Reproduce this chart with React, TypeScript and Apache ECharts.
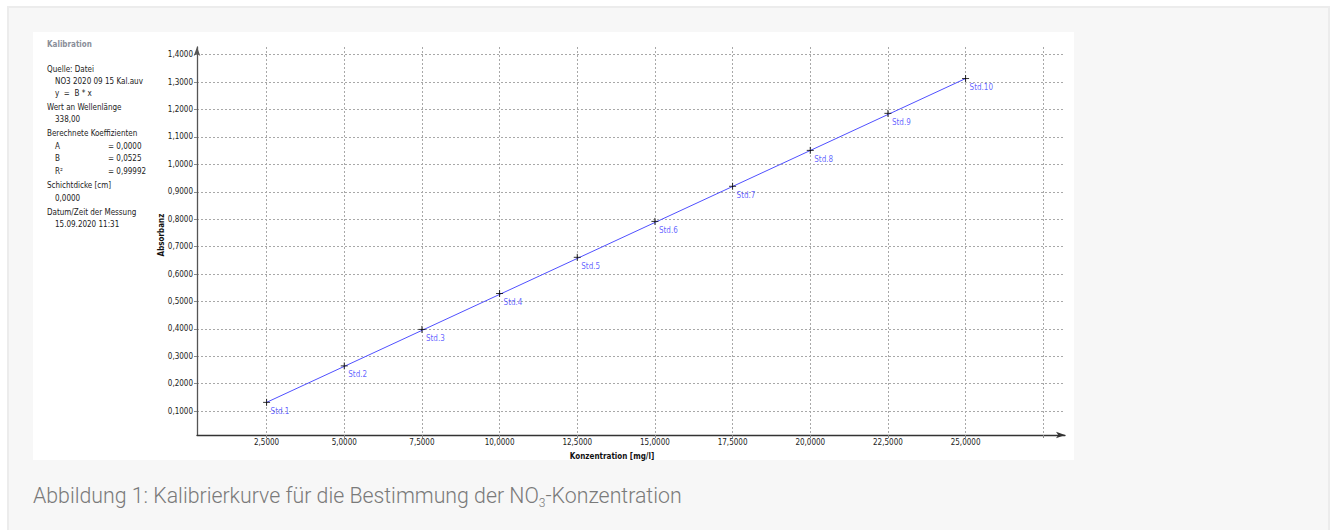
import React, { useEffect, useRef } from "react";
import * as echarts from "echarts";

const stdNames = ["Std.1", "Std.2", "Std.3", "Std.4", "Std.5", "Std.6", "Std.7", "Std.8", "Std.9", "Std.10"];
const concentrations = [2.5, 5.0, 7.5, 10.0, 12.5, 15.0, 17.5, 20.0, 22.5, 25.0];
const absorbances = [0.132, 0.265, 0.398, 0.529, 0.661, 0.792, 0.92, 1.051, 1.186, 1.313];
const fitLine = [
  [2.5, 0.132],
  [25.0, 1.313],
];
const xTickValues = [2.5, 5.0, 7.5, 10.0, 12.5, 15.0, 17.5, 20.0, 22.5, 25.0, 27.5];
const xLabelValues = [2.5, 5.0, 7.5, 10.0, 12.5, 15.0, 17.5, 20.0, 22.5, 25.0];
const yTickValues = [0.1, 0.2, 0.3, 0.4, 0.5, 0.6, 0.7, 0.8, 0.9, 1.0, 1.1, 1.2, 1.3, 1.4];

const infoLines: [string, number, number][] = [
  ["Quelle: Datei", 47, 69],
  ["NO3 2020 09 15 Kal.auv", 55, 81],
  ["y  =  B * x", 55, 93],
  ["Wert an Wellenlänge", 47, 107],
  ["338,00", 55, 119],
  ["Berechnete Koeffizienten", 47, 133],
  ["A", 55, 146],
  ["= 0,0000", 108, 146],
  ["B", 55, 158],
  ["= 0,0525", 108, 158],
  ["R²", 55, 171],
  ["= 0,99992", 108, 171],
  ["Schichtdicke [cm]", 47, 185],
  ["0,0000", 55, 198],
  ["Datum/Zeit der Messung", 47, 212],
  ["15.09.2020 11:31", 55, 224],
];

const FONT = "'DejaVu Sans Condensed', 'DejaVu Sans', sans-serif";
const fmt = (v: number) => v.toFixed(4).replace(".", ",");

export default function App() {
  const ref = useRef<HTMLDivElement>(null);

  useEffect(() => {
    if (!ref.current) return;
    const chart = echarts.init(ref.current, undefined, { renderer: "svg" });
    const gridLine = { show: true, lineStyle: { color: "#a8a8a8", type: [2, 2] as any, width: 1 } };
    chart.setOption({
      animation: false,
      backgroundColor: "transparent",
      grid: { left: 197, top: 47, right: 270, bottom: 95, outerBoundsMode: "none", containLabel: false },
      xAxis: {
        type: "value",
        min: 0.26,
        max: 28.2,
        name: "Konzentration [mg/l]",
        nameLocation: "middle",
        nameGap: 17,
        nameMoveOverlap: false,
        nameTextStyle: { fontFamily: FONT, fontSize: 8, fontWeight: "bold", color: "#111", padding: [0, 38, 0, 0], verticalAlign: "top" },
        axisLine: { show: true, onZero: false, symbol: ["none", "arrow"], symbolSize: [5, 9], lineStyle: { color: "#333", width: 1.3 } },
        axisTick: { show: true, length: 3, customValues: xTickValues, lineStyle: { color: "#888" } },
        axisLabel: { customValues: xLabelValues, formatter: fmt, fontFamily: FONT, fontSize: 8, color: "#222", margin: 3 },
        splitLine: gridLine,
      },
      yAxis: {
        type: "value",
        min: 0.013,
        max: 1.428,
        name: "Absorbanz",
        nameLocation: "middle",
        nameGap: 32,
        nameMoveOverlap: false,
        nameTextStyle: { fontFamily: FONT, fontSize: 8, fontWeight: "bold", color: "#111", padding: [0, 0, 0, 12] },
        axisLine: { show: true, onZero: false, symbol: ["none", "arrow"], symbolSize: [5, 9], lineStyle: { color: "#555", width: 1.3 } },
        axisTick: { show: true, length: 3, customValues: yTickValues, lineStyle: { color: "#888" } },
        axisLabel: { customValues: yTickValues, formatter: fmt, fontFamily: FONT, fontSize: 8, color: "#222", margin: 4 },
        splitLine: gridLine,
      },
      series: [
        {
          type: "line",
          data: fitLine,
          symbol: "none",
          lineStyle: { color: "#5050ff", width: 1 },
          silent: true,
          z: 2,
        },
        {
          type: "scatter",
          data: concentrations.map((c, i) => ({ value: [c, absorbances[i]], name: stdNames[i] })),
          symbol: "path://M0,5H10M5,0V10",
          symbolSize: 7,
          itemStyle: { color: "none", borderColor: "#000", borderWidth: 1 },
          label: {
            show: true,
            formatter: (p: any) => p.name,
            position: [10, 11],
            fontFamily: FONT,
            fontSize: 8,
            color: "#3c3cff",
          },
          z: 3,
        },
      ],
      graphic: [
        {
          type: "text",
          x: 47,
          y: 44,
          style: { text: "Kalibration", font: `bold 8px ${FONT}`, fill: "#8a8e99", verticalAlign: "middle" },
        },
        ...infoLines.map(([t, x, y]) => ({
          type: "text",
          x,
          y,
          style: { text: t, font: `8px ${FONT}`, fill: "#222", verticalAlign: "middle" },
        })),
      ],
    });
    return () => chart.dispose();
  }, []);

  return (
    <div style={{ position: "absolute", left: 0, top: 0, width: 1335, height: 530, overflow: "hidden", background: "#fff" }}>
      <div
        style={{
          position: "absolute",
          left: 7,
          top: 6,
          width: 1319,
          height: 540,
          background: "#f7f7f7",
          border: "2px solid #ececec",
        }}
      />
      <div style={{ position: "absolute", left: 33, top: 32, width: 1041, height: 428, background: "#fff" }} />
      <div
        style={{
          position: "absolute",
          left: 33,
          top: 482,
          fontFamily: "'Liberation Sans Narrow', 'Roboto', sans-serif",
          fontSize: 21.3,
          fontWeight: 300,
          color: "#7a7a7a",
          whiteSpace: "nowrap",
          lineHeight: "28px",
        }}
      >
        Abbildung 1: Kalibrierkurve für die Bestimmung der NO<sub style={{ fontSize: 12, verticalAlign: -4 }}>3</sub>-Konzentration
      </div>
      <div ref={ref} style={{ position: "absolute", left: 0, top: 0, width: 1335, height: 530 }} />
    </div>
  );
}
